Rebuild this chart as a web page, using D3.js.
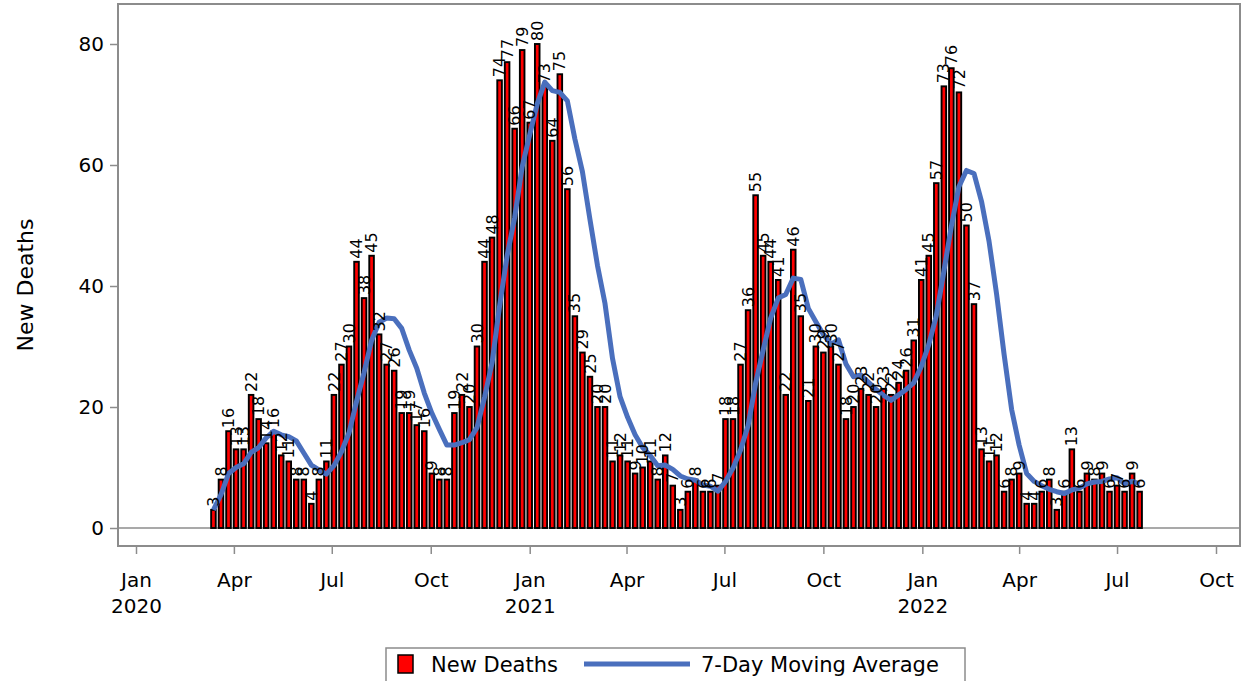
<!DOCTYPE html>
<html>
<head>
<meta charset="utf-8">
<script src="https://cdn.jsdelivr.net/npm/d3@7"></script>
<style>
  body { margin: 0; background: #fff; }
  text { font-family: "DejaVu Sans", sans-serif; fill: #000; }
</style>
</head>
<body>
<script>
// 每周新增死亡
var firstWeek = '2020-03-13';
var newDeaths = [3, 8, 16, 13, 13, 22, 18, 14, 16, 12, 11, 8, 8, 4, 8, 11,
  22, 27, 30, 44, 38, 45, 32, 27, 26, 19, 19, 17, 16, 9, 8, 8, 19, 22, 20, 30,
  44, 48, 74, 77, 66, 79, 67, 80, 73, 64, 75, 56, 35, 29, 25, 20, 20, 11, 12, 11,
  9, 10, 11, 8, 12, 7, 3, 6, 8, 6, 6, 7, 18, 18, 27, 36, 55, 45, 44, 41,
  22, 46, 35, 21, 30, 29, 30, 27, 18, 20, 23, 22, 20, 23, 22, 24, 26, 31, 41, 45,
  57, 73, 76, 72, 50, 37, 13, 11, 12, 6, 8, 9, 4, 4, 6, 8, 3, 6, 13, 6,
  9, 8, 9, 6, 7, 6, 9, 6];
// 移动平均线
var movingAvg = [3.0, 5.5, 9.0, 10.0, 10.6, 12.5, 13.3, 14.9, 16.0, 15.4, 15.1, 14.4,
  12.4, 10.4, 9.6, 8.9, 10.3, 12.6, 15.7, 20.9, 25.7, 31.0, 34.0, 34.7, 34.6, 33.0,
  29.4, 26.4, 22.3, 19.0, 16.3, 13.7, 13.7, 14.1, 14.6, 16.6, 21.6, 27.3, 36.7, 45.0,
  51.3, 59.7, 65.0, 70.1, 73.7, 72.3, 72.0, 70.6, 64.3, 58.9, 51.0, 43.4, 37.1, 28.0,
  21.7, 18.3, 15.4, 13.3, 12.0, 10.3, 10.4, 9.7, 8.6, 8.1, 7.9, 7.1, 6.9, 6.1,
  7.7, 9.9, 12.9, 16.9, 23.9, 29.4, 34.7, 38.0, 38.6, 41.3, 41.1, 36.3, 34.1, 32.0,
  30.4, 31.1, 27.1, 25.0, 25.3, 24.1, 22.9, 21.9, 21.1, 22.0, 22.9, 24.0, 26.7, 30.3,
  35.1, 42.4, 49.9, 56.4, 59.1, 58.6, 54.0, 47.4, 38.7, 28.7, 19.6, 13.7, 9.0, 7.7,
  7.0, 6.4, 6.0, 5.7, 6.3, 6.6, 7.3, 7.6, 7.7, 8.1, 8.3, 7.3, 7.7, 7.3];
var yTicks = [0, 20, 40, 60, 80];
var xTickDates = ['2020-01-01', '2020-04-01', '2020-07-01', '2020-10-01', '2021-01-01',
  '2021-04-01', '2021-07-01', '2021-10-01', '2022-01-01', '2022-04-01', '2022-07-01', '2022-10-01'];
var monthNames = ['Jan', 'Feb', 'Mar', 'Apr', 'May', 'Jun', 'Jul', 'Aug', 'Sep', 'Oct', 'Nov', 'Dec'];

var parse = d3.timeParse('%Y-%m-%d');
var start = parse(firstWeek);
var chartData = newDeaths.map(function (d, i) {
  return { date: d3.timeDay.offset(start, 7 * i), value: d, avg: movingAvg[i] };
});

var svgWidth = 1248, svgHeight = 681;
var frame = { left: 118, right: 1240, top: 4, bottom: 546 };

var svg = d3.select('body').append('svg')
  .attr('width', svgWidth)
  .attr('height', svgHeight);

var x = d3.scaleTime()
  .domain([parse('2020-01-01'), parse('2022-10-01')])
  .range([136, 1216]);
var y = d3.scaleLinear()
  .domain([0, 80])
  .range([528, 44]);

// 外框
svg.append('rect')
  .attr('x', frame.left).attr('y', frame.top)
  .attr('width', frame.right - frame.left)
  .attr('height', frame.bottom - frame.top)
  .attr('fill', 'none')
  .attr('stroke', '#8c8c8c')
  .attr('stroke-width', 2);

// 零线
svg.append('line')
  .attr('x1', frame.left).attr('x2', frame.right)
  .attr('y1', y(0)).attr('y2', y(0))
  .attr('stroke', '#8c8c8c').attr('stroke-width', 1.5);

// y轴
var yAxis = svg.append('g')
  .attr('transform', 'translate(' + frame.left + ',0)')
  .call(d3.axisLeft(y).tickValues(yTicks).tickSize(8).tickPadding(6));
yAxis.select('.domain').remove();
yAxis.selectAll('line').attr('stroke', '#8c8c8c').attr('stroke-width', 1.5);
yAxis.selectAll('text').style('font-size', '20px').attr('fill', '#000');

svg.append('text')
  .attr('transform', 'translate(33,285) rotate(-90)')
  .attr('text-anchor', 'middle')
  .style('font-size', '22px')
  .text('New Deaths');

// x轴
var xAxis = svg.append('g')
  .attr('transform', 'translate(0,' + frame.bottom + ')')
  .call(d3.axisBottom(x).tickValues(xTickDates.map(parse)).tickSize(8).tickFormat(''));
xAxis.select('.domain').remove();
xAxis.selectAll('line').attr('stroke', '#8c8c8c').attr('stroke-width', 1.5);
xAxis.selectAll('.tick').each(function (d) {
  var t = d3.select(this).append('text')
    .attr('text-anchor', 'middle')
    .attr('y', 41)
    .style('font-size', '20px');
  t.append('tspan').attr('x', 0).text(monthNames[d.getMonth()]);
  if (d.getMonth() === 0) {
    t.append('tspan').attr('x', 0).attr('dy', 26).text(d.getFullYear());
  }
});

// 柱子
var barW = 4.6;
svg.append('g').selectAll('rect')
  .data(chartData)
  .enter().append('rect')
  .attr('x', d => x(d.date) - barW / 2)
  .attr('y', d => y(d.value))
  .attr('width', barW)
  .attr('height', d => y(0) - y(d.value))
  .attr('fill', '#ff0000')
  .attr('stroke', '#000')
  .attr('stroke-width', 1.9);

// 移动平均线
var line = d3.line()
  .x(d => x(d.date))
  .y(d => y(d.avg));
svg.append('path')
  .datum(chartData)
  .attr('d', line)
  .attr('fill', 'none')
  .attr('stroke', '#4a6fbd')
  .attr('stroke-width', 5)
  .attr('stroke-linejoin', 'round');

// 柱子标签
svg.append('g').selectAll('text')
  .data(chartData)
  .enter().append('text')
  .attr('transform', d => 'translate(' + x(d.date) + ',' + (y(d.value) - 3) + ') rotate(-90)')
  .attr('dy', '0.35em')
  .style('font-size', '16px')
  .text(d => d.value);

// 图例
var legend = svg.append('g');
legend.append('rect')
  .attr('x', 386).attr('y', 648).attr('width', 579).attr('height', 40)
  .attr('fill', 'none').attr('stroke', '#8c8c8c').attr('stroke-width', 1.5);
legend.append('rect')
  .attr('x', 398).attr('y', 655).attr('width', 15).attr('height', 18)
  .attr('fill', '#ff0000').attr('stroke', '#000').attr('stroke-width', 1.5);
legend.append('text')
  .attr('x', 431).attr('y', 672)
  .style('font-size', '21px')
  .text('New Deaths');
legend.append('line')
  .attr('x1', 584).attr('x2', 690).attr('y1', 664).attr('y2', 664)
  .attr('stroke', '#4a6fbd').attr('stroke-width', 5);
legend.append('text')
  .attr('x', 701).attr('y', 672)
  .style('font-size', '21px')
  .text('7-Day Moving Average');
</script>
</body>
</html>
